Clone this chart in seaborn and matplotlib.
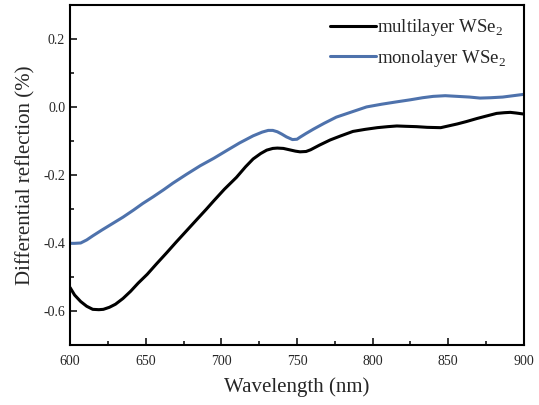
import matplotlib
matplotlib.use("Agg")
import matplotlib.pyplot as plt
import numpy as np
import pandas as pd
import seaborn as sns
from matplotlib.ticker import MultipleLocator

# Data (wavelength in nm, differential reflection in %)
multi_wl = [600, 603, 607, 611, 615, 619, 622, 626, 630, 635, 640, 645, 651, 657, 664, 670,
            677, 684, 690, 695, 702, 710, 716, 721, 726, 730, 734, 737, 741, 745, 749,
            752, 756, 759, 765, 772, 779, 787, 795, 803, 810, 816, 822, 829, 836, 845, 850,
            856, 862, 869, 875, 882, 887, 891, 895, 900]
multi_val = [-0.531, -0.553, -0.572, -0.586, -0.595, -0.596, -0.595, -0.589, -0.580, -0.563,
             -0.542, -0.518, -0.492, -0.462, -0.428, -0.398, -0.364, -0.330, -0.301, -0.276,
             -0.242, -0.207, -0.176, -0.153, -0.137, -0.127, -0.122, -0.121, -0.122,
             -0.126, -0.130, -0.132, -0.131, -0.126, -0.112, -0.097, -0.085, -0.072, -0.066,
             -0.061, -0.058, -0.056, -0.057, -0.058, -0.060, -0.061, -0.056, -0.050, -0.043,
             -0.034, -0.027, -0.019, -0.017, -0.016, -0.018, -0.021]

mono_wl = [600, 603, 607, 611, 615, 621, 628, 635, 642, 648, 655, 662, 668, 677, 686, 695,
           704, 712, 721, 727, 731, 734, 737, 740, 743, 747, 750, 752, 756, 761, 768, 776, 786,
           796, 806, 816, 825, 833, 840, 848, 856, 864, 871, 878, 886, 893, 900]
mono_val = [-0.401, -0.401, -0.400, -0.391, -0.379, -0.362, -0.343, -0.324, -0.303, -0.284,
            -0.264, -0.243, -0.224, -0.198, -0.173, -0.151, -0.127, -0.106, -0.085, -0.074,
            -0.069, -0.069, -0.073, -0.080, -0.088, -0.096, -0.095, -0.089, -0.078, -0.065,
            -0.048, -0.030, -0.015, 0.000, 0.008, 0.015, 0.021, 0.027, 0.031, 0.033, 0.031,
            0.029, 0.026, 0.027, 0.029, 0.033, 0.037]

labels = ["multilayer WSe$_2$", "monolayer WSe$_2$"]
colors = ["black", "#4E72AC"]

sns.set_style("ticks")
plt.rcParams["font.family"] = ["Liberation Serif", "DejaVu Serif"]
plt.rcParams["mathtext.fontset"] = "custom"
plt.rcParams["mathtext.rm"] = "Liberation Serif"

fig = plt.figure(figsize=(5.39, 4.05), dpi=100)
ax = fig.add_axes([0.130, 0.148, 0.842, 0.840])

sns.lineplot(x=multi_wl, y=multi_val, color=colors[0], lw=2.2, label=labels[0], ax=ax)
sns.lineplot(x=mono_wl, y=mono_val, color=colors[1], lw=2.2, label=labels[1], ax=ax)

ax.set_xlim(600, 900)
ax.set_ylim(-0.7, 0.3)
ax.xaxis.set_major_locator(MultipleLocator(50))
ax.xaxis.set_minor_locator(MultipleLocator(25))
ax.yaxis.set_major_locator(MultipleLocator(0.2))
ax.yaxis.set_minor_locator(MultipleLocator(0.1))
ax.yaxis.set_major_formatter(matplotlib.ticker.FuncFormatter(lambda v, p: f"{v:.1f}"))
ax.tick_params(which="both", direction="in", top=False, right=False, labelsize=10, width=1.3)
ax.tick_params(which="major", length=5)
ax.tick_params(which="minor", length=3)
ax.tick_params(axis="x", pad=7)
for s in ax.spines.values():
    s.set_linewidth(1.5)
    s.set_color("black")

ax.set_xlabel("Wavelength (nm)", fontsize=15, labelpad=7)
ax.set_ylabel("Differential reflection (%)", fontsize=15, labelpad=6)

ax.legend(loc="upper right", bbox_to_anchor=(0.962, 0.963), frameon=False, fontsize=13.5,
          handlelength=2.5, handletextpad=0.05, labelspacing=0.5, borderaxespad=0,
          borderpad=0)

fig.savefig("out.png", dpi=100)
